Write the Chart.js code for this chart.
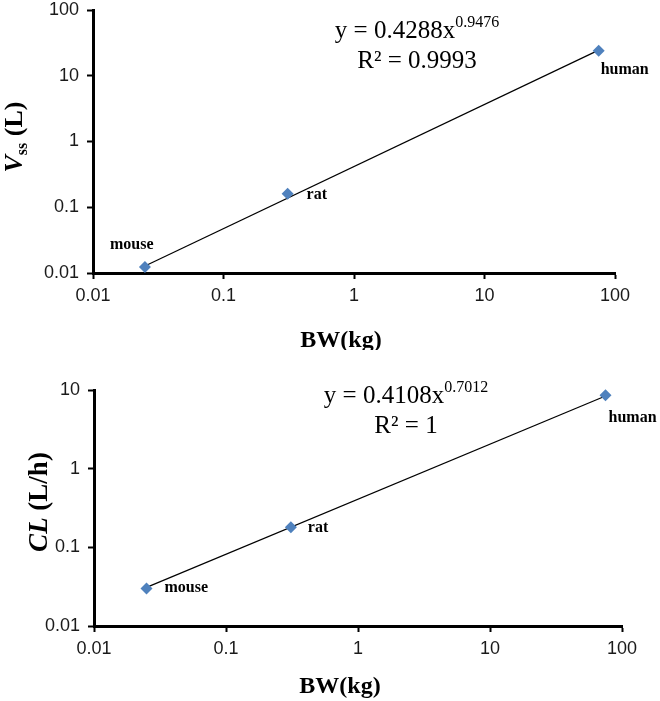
<!DOCTYPE html>
<html>
<head>
<meta charset="utf-8">
<script src="https://cdn.jsdelivr.net/npm/chart.js@4.4.1/dist/chart.umd.min.js"></script>
<style>
  body { margin: 0; background: #fff; }
  .wrap { position: absolute; left: 0; width: 660px; }
</style>
</head>
<body>
<div class="wrap" style="top:0;height:350px"><canvas id="vssChart" width="660" height="350"></canvas></div>
<div class="wrap" style="top:350px;height:351px"><canvas id="clChart" width="660" height="351"></canvas></div>
<script>
// data
const species = ['mouse', 'rat', 'human'];
const bwKg = [0.025, 0.31, 75];
const vssL = [0.0123, 0.16, 24];
const clLh = [0.030, 0.18, 8.6];

// power trendline end points (as drawn)
const trendX = [0.025, 75];
const vssTrend = [0.0128, 24.5];
const clTrend = [0.031, 8.4];

// tick values
const bwTicks = [0.01, 0.1, 1, 10, 100];
const vssTicks = [0.01, 0.1, 1, 10, 100];
const clTicks = [0.01, 0.1, 1, 10];

const SERIF = '"Liberation Serif", "Times New Roman", serif';
const SANS = '"Liberation Sans", Arial, sans-serif';
const BLUE = '#4F81BD';

// draws axis titles, equation and point labels
function textPlugin(cfg) {
  return {
    id: 'texts',
    afterDraw(chart) {
      const ctx = chart.ctx;
      const xs = chart.scales.x, ys = chart.scales.y;
      ctx.save();
      ctx.fillStyle = '#000';
      ctx.textBaseline = 'alphabetic';

      // x title
      ctx.font = 'bold 24px ' + SERIF;
      ctx.textAlign = 'center';
      ctx.fillText('BW(kg)', cfg.xTitle[0], cfg.xTitle[1]);

      // y title, rotated, mixed styles
      ctx.save();
      ctx.translate(cfg.yTitle[0], cfg.yTitle[1]);
      ctx.rotate(-Math.PI / 2);
      ctx.textAlign = 'left';
      let total = 0;
      cfg.yParts.forEach(p => { ctx.font = p.font; total += ctx.measureText(p.t).width; });
      let pos = -total / 2;
      cfg.yParts.forEach(p => {
        ctx.font = p.font;
        ctx.fillText(p.t, pos, p.dy || 0);
        pos += ctx.measureText(p.t).width;
      });
      ctx.restore();

      // trendline equation
      ctx.textAlign = 'left';
      ctx.font = '25px ' + SERIF;
      const w1 = ctx.measureText(cfg.eqMain).width;
      ctx.font = '16px ' + SERIF;
      const w2 = ctx.measureText(cfg.eqSup).width;
      const sx = cfg.eqX - (w1 + w2) / 2;
      ctx.font = '25px ' + SERIF;
      ctx.fillText(cfg.eqMain, sx, cfg.eqY[0]);
      ctx.font = '16px ' + SERIF;
      ctx.fillText(cfg.eqSup, sx + w1, cfg.eqY[0] - 11);
      ctx.font = '25px ' + SERIF;
      ctx.textAlign = 'center';
      ctx.fillText(cfg.r2, cfg.eqX, cfg.eqY[1]);

      // point labels
      ctx.font = 'bold 16px ' + SERIF;
      ctx.textAlign = 'left';
      species.forEach((name, i) => {
        const px = xs.getPixelForValue(bwKg[i]) + cfg.labelOff[i][0];
        const py = ys.getPixelForValue(cfg.values[i]) + cfg.labelOff[i][1];
        ctx.fillText(name, px, py);
      });
      ctx.restore();
    }
  };
}

function makeChart(id, values, trend, yTicks, yMax, area, cfg) {
  const canvas = document.getElementById(id);
  const tickFont = { family: SANS, size: 18 };
  return new Chart(canvas, {
    type: 'scatter',
    data: {
      datasets: [
        {
          data: bwKg.map((x, i) => ({ x: x, y: values[i] })),
          pointStyle: 'rectRot',
          pointRadius: 6,
          pointHoverRadius: 6,
          backgroundColor: BLUE,
          borderColor: BLUE,
          borderWidth: 0,
          showLine: false,
          order: 0,
          clip: false
        },
        {
          data: trendX.map((x, i) => ({ x: x, y: trend[i] })),
          showLine: true,
          borderColor: '#000',
          borderWidth: 1.2,
          pointRadius: 0,
          order: 1,
          clip: false
        }
      ]
    },
    options: {
      responsive: false,
      animation: false,
      layout: { padding: { left: 0, right: area.right, top: area.top, bottom: 0 } },
      plugins: {
        legend: { display: false },
        tooltip: { enabled: false }
      },
      scales: {
        x: {
          type: 'logarithmic',
          min: 0.01,
          max: 100,
          afterBuildTicks: s => { s.ticks = bwTicks.map(v => ({ value: v })); },
          afterFit: s => { s.height = area.xHeight; s.paddingLeft = 0; s.paddingRight = 0; },
          ticks: {
            callback: v => String(v),
            font: tickFont,
            color: '#1a1a1a',
            padding: 6,
            maxRotation: 0,
            autoSkip: false
          },
          grid: { drawOnChartArea: false, tickLength: 6, tickWidth: 2, tickColor: '#000' },
          border: { color: '#000', width: 3 }
        },
        y: {
          type: 'logarithmic',
          min: 0.01,
          max: yMax,
          afterBuildTicks: s => { s.ticks = yTicks.map(v => ({ value: v })); },
          afterFit: s => { s.width = area.yWidth; s.paddingTop = 0; s.paddingBottom = 0; },
          ticks: {
            callback: v => String(v),
            font: tickFont,
            color: '#1a1a1a',
            padding: 8,
            autoSkip: false
          },
          grid: { drawOnChartArea: false, tickLength: 6, tickWidth: 2, tickColor: '#000' },
          border: { color: '#000', width: 3 }
        }
      }
    },
    plugins: [textPlugin(cfg)]
  });
}

makeChart('vssChart', vssL, vssTrend, vssTicks, 100,
  { right: 45, top: 10, xHeight: 77, yWidth: 93 },
  {
    values: vssL,
    xTitle: [341, 347],
    yTitle: [22, 137],
    yParts: [
      { t: 'V', font: 'italic bold 26px ' + SERIF },
      { t: 'ss', font: 'bold 16px ' + SERIF, dy: 5 },
      { t: ' (L)', font: 'bold 26px ' + SERIF }
    ],
    eqMain: 'y = 0.4288x',
    eqSup: '0.9476',
    r2: 'R\u00B2 = 0.9993',
    eqX: 417,
    eqY: [38, 68],
    labelOff: [[-35, -18], [19, 5], [2, 23]]
  });

makeChart('clChart', clLh, clTrend, clTicks, 10,
  { right: 38, top: 40, xHeight: 75, yWidth: 94 },
  {
    values: clLh,
    xTitle: [340, 343],
    yTitle: [47, 152],
    yParts: [
      { t: 'CL', font: 'italic bold 27px ' + SERIF },
      { t: ' (L/h)', font: 'bold 27px ' + SERIF }
    ],
    eqMain: 'y = 0.4108x',
    eqSup: '0.7012',
    r2: 'R\u00B2 = 1',
    eqX: 406,
    eqY: [53, 83],
    labelOff: [[18, 4], [17, 5], [3, 27]]
  });
</script>
</body>
</html>
